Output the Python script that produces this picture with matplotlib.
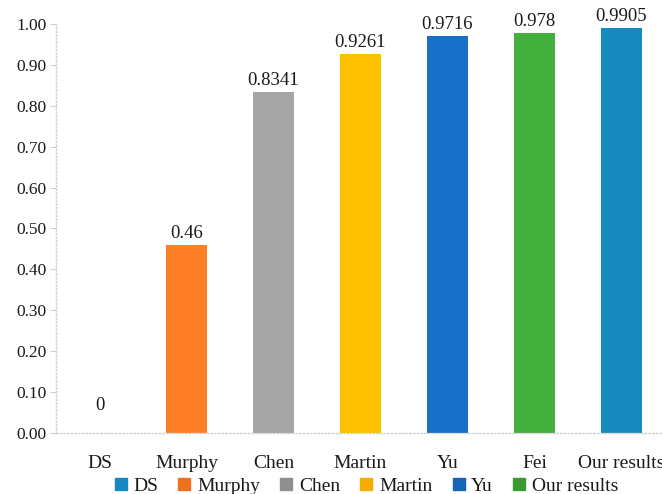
import matplotlib
matplotlib.use("Agg")
import matplotlib.pyplot as plt
from matplotlib.lines import Line2D

plt.rcParams['font.family'] = ['Liberation Serif', 'DejaVu Serif']

# accuracy per method
methods = ['DS', 'Murphy', 'Chen', 'Martin', 'Yu', 'Fei', 'Our results']
scores = [0.0, 0.46, 0.8341, 0.9261, 0.9716, 0.978, 0.9905]
bar_colors = ['#1689BF', '#FF7F27', '#A5A5A5', '#FFC000', '#1870C8', '#43AF3C', '#1689BF']

legend_names = ['DS', 'Murphy', 'Chen', 'Martin', 'Yu', 'Our results']
legend_colors = ['#1788C4', '#F07022', '#8F8F8F', '#F5AE00', '#1565B5', '#3A9A30']

yticks = [0.0, 0.1, 0.2, 0.3, 0.4, 0.5, 0.6, 0.7, 0.8, 0.9, 1.0]

fig = plt.figure(figsize=(6.62, 4.94), dpi=100)
ax = fig.add_axes([56 / 662, 61 / 494, 609 / 662, 409 / 494])

x = range(len(methods))
ax.bar(x, scores, width=0.47, color=bar_colors)

for xi, v in zip(x, scores):
    off = 14 if v == 0 else 2
    ax.annotate(f"{v:g}", (xi, v), xytext=(0, off), textcoords='offset points',
                ha='center', va='bottom', fontsize=13.5, color='#1a1a1a')

ax.set_xlim(-0.5, 6.5)
ax.set_ylim(0, 1.0)
ax.set_yticks(yticks)
ax.set_yticklabels([f"{t:.2f}" for t in yticks])
ax.set_xticks(list(x))
ax.set_xticklabels(methods)

ax.tick_params(axis='y', labelsize=12.5, length=4, color='#d0d0d0', pad=3, labelcolor='#1a1a1a')
ax.tick_params(axis='x', labelsize=14, length=0, pad=16, labelcolor='#1a1a1a')

for s in ['top', 'right']:
    ax.spines[s].set_visible(False)
for s in ['left', 'bottom']:
    ax.spines[s].set_color('#d0d0d0')
    ax.spines[s].set_linestyle(':')
    ax.spines[s].set_linewidth(1.0)

handles = [Line2D([], [], marker='s', linestyle='none', markersize=9,
                  markerfacecolor=c, markeredgecolor=c) for c in legend_colors]
fig.legend(handles, legend_names, loc='center', bbox_to_anchor=(366 / 662, 8 / 494),
           ncol=6, frameon=False, fontsize=14, handlelength=0.7, handletextpad=0.3,
           columnspacing=1.0, borderpad=0, labelcolor='#1a1a1a')

fig.savefig('out.png', dpi=100)
